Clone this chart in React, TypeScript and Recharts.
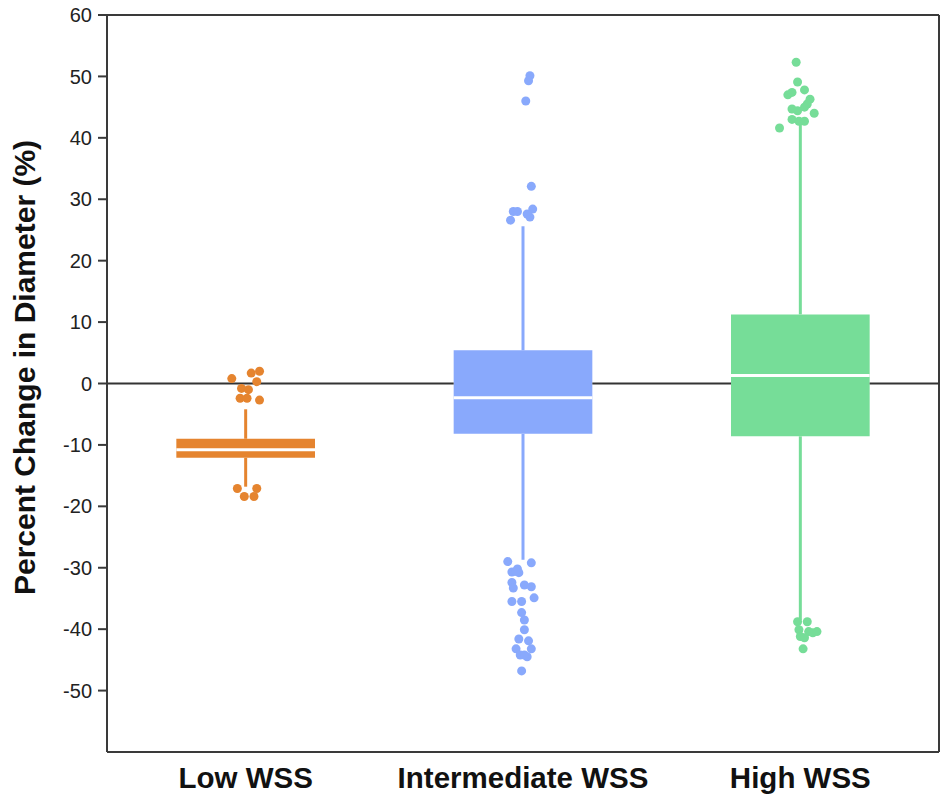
import {
  ComposedChart,
  ReferenceArea,
  ReferenceLine,
  Scatter,
  XAxis,
  YAxis,
} from "recharts"

const groups = ["Low WSS", "Intermediate WSS", "High WSS"]
const colors = ["#E5842F", "#89A9FC", "#76DD98"]
const positions = [1, 2, 3]

// box stats
const whiskerLow = [-16.8, -28.7, -38.5]
const q1 = [-12.1, -8.2, -8.6]
const median = [-10.8, -2.3, 1.3]
const q3 = [-9.0, 5.4, 11.25]
const whiskerHigh = [-4.2, 25.6, 42.2]

const yTicks = [-50, -40, -30, -20, -10, 0, 10, 20, 30, 40, 50, 60]

// outliers: x is the group position plus a small jitter
const lowOutliers = [
  { x: 0.95, y: 0.8 }, { x: 1.02, y: 1.7 }, { x: 1.05, y: 2.0 }, { x: 1.04, y: 0.3 },
  { x: 0.985, y: -0.8 }, { x: 1.01, y: -1.0 }, { x: 0.98, y: -2.4 }, { x: 1.005, y: -2.4 },
  { x: 1.05, y: -2.7 }, { x: 0.97, y: -17.1 }, { x: 1.04, y: -17.1 }, { x: 0.995, y: -18.4 },
  { x: 1.03, y: -18.4 },
]

const intermediateOutliers = [
  { x: 2.025, y: 50.1 }, { x: 2.02, y: 49.3 }, { x: 2.01, y: 46.0 }, { x: 2.03, y: 32.1 },
  { x: 1.965, y: 28.0 }, { x: 1.98, y: 28.0 }, { x: 1.955, y: 26.6 }, { x: 2.035, y: 28.4 },
  { x: 2.025, y: 27.1 }, { x: 2.015, y: 27.6 },
  { x: 1.945, y: -29.0 }, { x: 2.03, y: -29.2 }, { x: 1.96, y: -30.7 }, { x: 1.98, y: -30.2 },
  { x: 1.985, y: -30.8 }, { x: 1.975, y: -30.6 }, { x: 1.96, y: -32.4 }, { x: 1.965, y: -33.3 },
  { x: 2.005, y: -32.8 }, { x: 2.03, y: -33.1 }, { x: 1.96, y: -35.5 }, { x: 1.995, y: -35.5 },
  { x: 2.04, y: -34.9 }, { x: 1.995, y: -37.3 }, { x: 2.005, y: -38.5 }, { x: 2.005, y: -40.1 },
  { x: 1.985, y: -41.6 }, { x: 2.02, y: -41.9 }, { x: 1.975, y: -43.2 }, { x: 2.03, y: -43.2 },
  { x: 1.99, y: -44.2 }, { x: 2.015, y: -44.5 }, { x: 2.005, y: -44.2 }, { x: 1.995, y: -46.8 },
]

const highOutliers = [
  { x: 2.985, y: 52.3 }, { x: 2.99, y: 49.1 }, { x: 2.955, y: 47.0 }, { x: 2.97, y: 47.4 },
  { x: 3.015, y: 47.8 }, { x: 3.035, y: 46.3 }, { x: 3.025, y: 45.5 }, { x: 2.97, y: 44.7 },
  { x: 2.99, y: 44.4 }, { x: 3.015, y: 45.0 }, { x: 3.05, y: 44.0 }, { x: 2.97, y: 43.0 },
  { x: 2.995, y: 42.7 }, { x: 3.015, y: 42.7 }, { x: 2.925, y: 41.6 },
  { x: 2.99, y: -38.8 }, { x: 3.025, y: -38.8 }, { x: 2.995, y: -40.1 }, { x: 3.03, y: -40.4 },
  { x: 3.045, y: -40.6 }, { x: 3.06, y: -40.4 }, { x: 3.0, y: -41.2 }, { x: 3.015, y: -41.4 },
  { x: 3.01, y: -43.2 },
]

const outliers = [lowOutliers, intermediateOutliers, highOutliers]

const FONT = '"Liberation Sans", Arial, Helvetica, sans-serif'
const AXIS = "#3a3a3a"
const HALF = 0.25
const X_MIN = 0.5
const X_MAX = 3.5

// the zero line sits behind the boxes, so split it around boxes that cross 0
function zeroSegments() {
  const segs: [number, number][] = []
  let start = X_MIN
  positions.forEach((p, i) => {
    if (q1[i] < 0 && q3[i] > 0) {
      segs.push([start, p - HALF])
      start = p + HALF
    }
  })
  segs.push([start, X_MAX])
  return segs
}

export default function App() {
  return (
    <div style={{ position: "absolute", left: 0, top: 0, fontFamily: FONT }}>
      <ComposedChart width={940} height={796} margin={{ top: 15, right: 1, left: 0, bottom: 0 }}>
        <XAxis
          type="number"
          dataKey="x"
          domain={[X_MIN, X_MAX]}
          ticks={positions}
          allowDataOverflow
          tickFormatter={(v) => groups[Number(v) - 1] ?? ""}
          tickLine={false}
          tickSize={6}
          tickMargin={9}
          height={44}
          axisLine={{ stroke: AXIS, strokeWidth: 2 }}
          tick={{ fontSize: 29.5, fontWeight: "bold", fill: "#111", fontFamily: FONT }}
        />
        <YAxis
          type="number"
          dataKey="y"
          domain={[-60, 60]}
          ticks={yTicks}
          allowDataOverflow
          width={107}
          tickSize={9}
          tickMargin={6}
          axisLine={{ stroke: AXIS, strokeWidth: 2 }}
          tickLine={{ stroke: AXIS, strokeWidth: 2 }}
          tick={{ fontSize: 20, fill: "#222", fontFamily: FONT }}
          label={{
            value: "Percent Change in Diameter (%)",
            content: ({ viewBox }: any) => {
              const cy = viewBox.y + viewBox.height / 2 - 16
              return (
                <text
                  x={35}
                  y={cy}
                  transform={`rotate(-90, 35, ${cy})`}
                  textAnchor="middle"
                  fontSize={30}
                  fontWeight="bold"
                  fill="#111"
                  fontFamily={FONT}
                >
                  Percent Change in Diameter (%)
                </text>
              )
            },
          }}
        />

        {/* frame top and right */}
        <ReferenceLine y={60} stroke={AXIS} strokeWidth={2} />
        <ReferenceLine x={X_MAX} stroke={AXIS} strokeWidth={2} />
        {zeroSegments().map(([a, b], i) => (
          <ReferenceLine
            key={`zero-${i}`}
            segment={[{ x: a, y: 0 }, { x: b, y: 0 }]}
            stroke="#333"
            strokeWidth={2}
          />
        ))}

        {/* whiskers */}
        {positions.map((p, i) => (
          <ReferenceLine
            key={`wh-${i}`}
            segment={[{ x: p, y: q3[i] }, { x: p, y: whiskerHigh[i] }]}
            stroke={colors[i]}
            strokeWidth={3}
          />
        ))}
        {positions.map((p, i) => (
          <ReferenceLine
            key={`wl-${i}`}
            segment={[{ x: p, y: whiskerLow[i] }, { x: p, y: q1[i] }]}
            stroke={colors[i]}
            strokeWidth={3}
          />
        ))}

        {/* boxes */}
        {positions.map((p, i) => (
          <ReferenceArea
            key={`box-${i}`}
            x1={p - HALF}
            x2={p + HALF}
            y1={q1[i]}
            y2={q3[i]}
            fill={colors[i]}
            fillOpacity={1}
            stroke="none"
          />
        ))}

        {/* medians */}
        {positions.map((p, i) => (
          <ReferenceLine
            key={`med-${i}`}
            segment={[{ x: p - HALF, y: median[i] }, { x: p + HALF, y: median[i] }]}
            stroke="#ffffff"
            strokeWidth={3}
          />
        ))}

        {outliers.map((pts, i) => (
          <Scatter
            key={`out-${i}`}
            data={pts}
            isAnimationActive={false}
            shape={(props: any) => <circle cx={props.cx} cy={props.cy} r={4.5} fill={colors[i]} />}
          />
        ))}
      </ComposedChart>
    </div>
  )
}
